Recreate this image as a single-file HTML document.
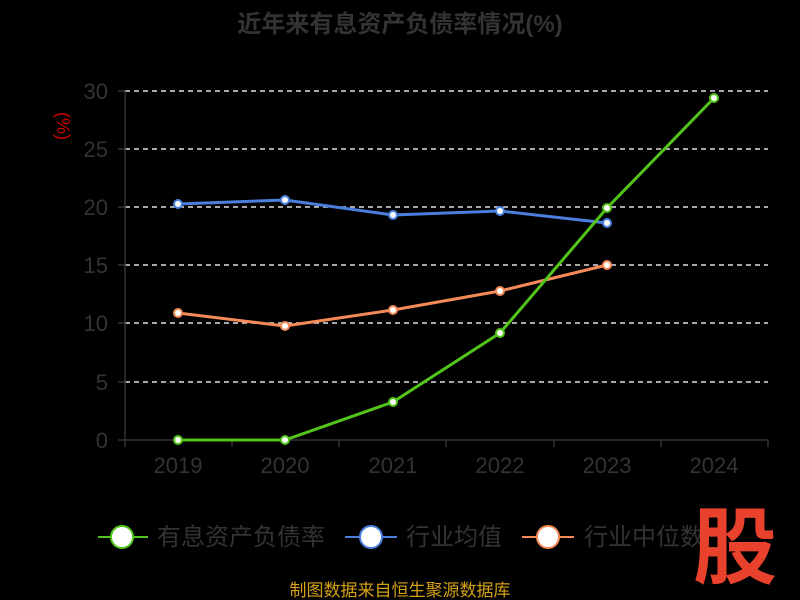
<!DOCTYPE html><html><head><meta charset="utf-8"><style>body{margin:0;background:#000;width:800px;height:600px;overflow:hidden}svg{display:block}text{font-family:"Liberation Sans","Noto Sans CJK SC",sans-serif}</style></head><body>
<svg width="800" height="600" viewBox="0 0 800 600">
<rect width="800" height="600" fill="#000"/>
<text x="400" y="32" text-anchor="middle" font-size="24" font-weight="bold" fill="#333">近年来有息资产负债率情况(%)</text>
<text transform="translate(57,126) rotate(90)" text-anchor="middle" font-size="18" fill="#c00">(%)</text>
<g stroke="#ddd" stroke-dasharray="5,4" stroke-width="1.4">
<line x1="125" x2="768" y1="91" y2="91"/><line x1="125" x2="768" y1="149" y2="149"/><line x1="125" x2="768" y1="207" y2="207"/><line x1="125" x2="768" y1="265" y2="265"/><line x1="125" x2="768" y1="323" y2="323"/><line x1="125" x2="768" y1="382" y2="382"/></g>
<g stroke="#333" stroke-width="1.5"><line x1="125" x2="768" y1="440" y2="440"/><line x1="125" x2="125" y1="91" y2="440"/>
<line x1="125" x2="125" y1="440" y2="447"/><line x1="232" x2="232" y1="440" y2="447"/><line x1="339" x2="339" y1="440" y2="447"/><line x1="446" x2="446" y1="440" y2="447"/><line x1="554" x2="554" y1="440" y2="447"/><line x1="661" x2="661" y1="440" y2="447"/><line x1="768" x2="768" y1="440" y2="447"/>
<line x1="118" x2="125" y1="91" y2="91"/><line x1="118" x2="125" y1="149" y2="149"/><line x1="118" x2="125" y1="207" y2="207"/><line x1="118" x2="125" y1="265" y2="265"/><line x1="118" x2="125" y1="323" y2="323"/><line x1="118" x2="125" y1="382" y2="382"/><line x1="118" x2="125" y1="440" y2="440"/></g>
<g font-size="22" fill="#333" text-anchor="end"><text x="108" y="99">30</text><text x="108" y="157">25</text><text x="108" y="215">20</text><text x="108" y="273">15</text><text x="108" y="331">10</text><text x="108" y="390">5</text><text x="108" y="448">0</text></g>
<g font-size="22" fill="#333" text-anchor="middle"><text x="178" y="473">2019</text><text x="285" y="473">2020</text><text x="393" y="473">2021</text><text x="500" y="473">2022</text><text x="607" y="473">2023</text><text x="714" y="473">2024</text></g>
<polyline points="178,204 285,200 393,215 500,211 607,223" fill="none" stroke="#4a7fde" stroke-width="3"/>
<polyline points="178,313 285,326 393,310 500,291 607,265" fill="none" stroke="#f58a58" stroke-width="3"/>
<polyline points="178,440 285,440 393,402 500,333 607,208 714,98" fill="none" stroke="#52c41a" stroke-width="3"/>
<g fill="#fff" stroke-width="2">
<g stroke="#4a7fde"><circle cx="178" cy="204" r="4"/><circle cx="285" cy="200" r="4"/><circle cx="393" cy="215" r="4"/><circle cx="500" cy="211" r="4"/><circle cx="607" cy="223" r="4"/></g>
<g stroke="#f58a58"><circle cx="178" cy="313" r="4"/><circle cx="285" cy="326" r="4"/><circle cx="393" cy="310" r="4"/><circle cx="500" cy="291" r="4"/><circle cx="607" cy="265" r="4"/></g>
<g stroke="#52c41a"><circle cx="178" cy="440" r="4"/><circle cx="285" cy="440" r="4"/><circle cx="393" cy="402" r="4"/><circle cx="500" cy="333" r="4"/><circle cx="607" cy="208" r="4"/><circle cx="714" cy="98" r="4"/></g></g>
<g font-size="24" fill="#333">
<line x1="98" x2="148" y1="537" y2="537" stroke="#52c41a" stroke-width="2"/><ellipse cx="122" cy="537" rx="11" ry="11" fill="#fff" stroke="#52c41a" stroke-width="2"/><text x="157" y="545">有息资产负债率</text>
<line x1="345" x2="397" y1="537" y2="537" stroke="#4a7fde" stroke-width="2"/><ellipse cx="371" cy="537" rx="11" ry="11" fill="#fff" stroke="#4a7fde" stroke-width="2"/><text x="406" y="545">行业均值</text>
<line x1="522" x2="574" y1="537" y2="537" stroke="#f58a58" stroke-width="2"/><ellipse cx="548" cy="537" rx="11" ry="11" fill="#fff" stroke="#f58a58" stroke-width="2"/><text x="584" y="545">行业中位数</text></g>
<text x="735" y="577" text-anchor="middle" font-size="84" font-weight="bold" fill="#e8412c">股</text>
<text x="400" y="596" text-anchor="middle" font-size="17" fill="#d4a017">制图数据来自恒生聚源数据库</text>
</svg></body></html>
